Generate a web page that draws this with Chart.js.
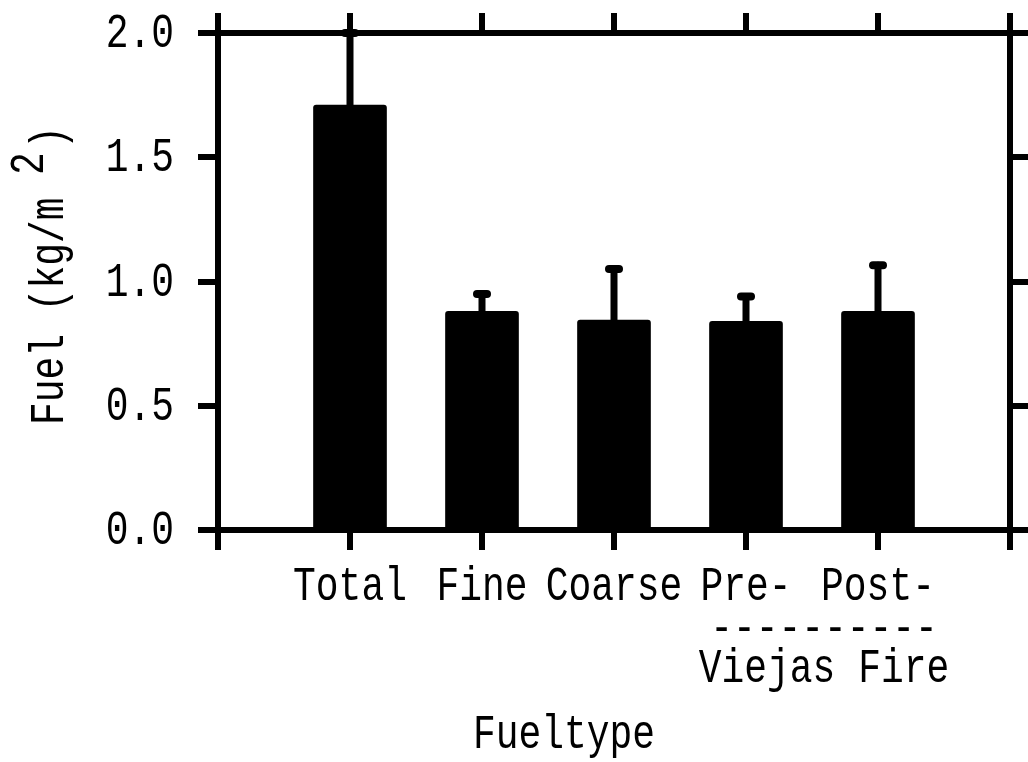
<!DOCTYPE html>
<html>
<head>
<meta charset="utf-8">
<script src="https://cdn.jsdelivr.net/npm/chart.js@4/dist/chart.umd.min.js"></script>
<style>
  body { margin: 0; background: #fff; }
  canvas { display: block; }
</style>
</head>
<body>
<canvas id="fuel_chart" width="1028" height="762"></canvas>
<script>
// fuel load by fuel type, mean with upper error
var categories = ['Total', 'Fine', 'Coarse', 'Pre-', 'Post-'];
var fuel_means = [1.71, 0.88, 0.845, 0.84, 0.88];
var fuel_upper = [2.0, 0.95, 1.05, 0.94, 1.065];
var y_tick_values = [0.0, 0.5, 1.0, 1.5, 2.0];
var group_label = ['----------', 'Viejas Fire'];
var x_title = 'Fueltype';
var y_title = ['Fuel (kg/m', '2', ')'];

var FONT = '48px "Liberation Mono"';
var SQUEEZE = 0.79;

function squeezed_text(ctx, text, x, y, align)
{
  ctx.save();
  ctx.translate(x, y);
  ctx.scale(SQUEEZE, 1);
  ctx.font = FONT;
  ctx.fillStyle = '#000';
  ctx.textAlign = align;
  ctx.textBaseline = 'alphabetic';
  ctx.fillText(text, 0, 0);
  ctx.restore();
}

var error_bars = {
  id: 'error_bars',
  afterDatasetsDraw: function (chart) {
    var ctx = chart.ctx;
    var meta = chart.getDatasetMeta(0);
    var y = chart.scales.y;
    ctx.save();
    ctx.strokeStyle = '#000';
    ctx.lineCap = 'round';
    for (var i = 0; i < categories.length; i++) {
      var bar = meta.data[i + 1];
      var top = y.getPixelForValue(fuel_upper[i]);
      ctx.lineWidth = 7;
      ctx.beginPath();
      ctx.moveTo(bar.x, bar.y);
      ctx.lineTo(bar.x, top);
      ctx.stroke();
      ctx.lineWidth = 8;
      ctx.beginPath();
      ctx.moveTo(bar.x - 5, top);
      ctx.lineTo(bar.x + 5, top);
      ctx.stroke();
    }
    ctx.restore();
  }
};

var text_labels = {
  id: 'text_labels',
  afterDraw: function (chart) {
    var ctx = chart.ctx;
    var xs = chart.scales.x;
    var ys = chart.scales.y;
    // category labels
    for (var i = 0; i < categories.length; i++) {
      squeezed_text(ctx, categories[i], xs.getPixelForValue(i + 1), 600, 'center');
    }
    // Pre-/Post- Viejas Fire
    var mid = (xs.getPixelForValue(4) + xs.getPixelForValue(5)) / 2 + 12;
    squeezed_text(ctx, group_label[0], mid, 642, 'center');
    squeezed_text(ctx, group_label[1], mid, 682, 'center');
    // y tick labels
    for (var t = 0; t < y_tick_values.length; t++) {
      squeezed_text(ctx, y_tick_values[t].toFixed(1), 174, ys.getPixelForValue(y_tick_values[t]) + 14, 'right');
    }
    // axis titles
    squeezed_text(ctx, x_title, 564, 748, 'center');
    ctx.save();
    ctx.translate(63, 425);
    ctx.rotate(-Math.PI / 2);
    squeezed_text(ctx, y_title[0], 0, 0, 'left');
    squeezed_text(ctx, y_title[1], 250, -20, 'left');
    squeezed_text(ctx, y_title[2], 276, 0, 'left');
    ctx.restore();
  }
};

function axis_style(id_pos)
{
  return {
    position: id_pos,
    grid: { display: true, offset: false, drawOnChartArea: false, drawTicks: true, tickLength: 20, lineWidth: 6, color: '#000' },
    border: { display: true, width: 6, color: '#000' },
    ticks: { display: false }
  };
}

window.onload = function ()
{
  var labels = [''].concat(categories, ['']);
  var values = [null].concat(fuel_means, [null]);

  var x_axis = axis_style('bottom');
  x_axis.type = 'category';
  x_axis.offset = false;
  var x2_axis = axis_style('top');
  x2_axis.type = 'category';
  x2_axis.offset = false;
  var y_axis = axis_style('left');
  y_axis.type = 'linear';
  y_axis.min = 0; y_axis.max = 2;
  y_axis.ticks.stepSize = 0.5;
  var y2_axis = axis_style('right');
  y2_axis.type = 'linear';
  y2_axis.min = 0; y2_axis.max = 2;
  y2_axis.ticks.stepSize = 0.5;

  var ctx = document.getElementById('fuel_chart').getContext('2d');
  var fuel_chart = new Chart(ctx, {
    type: 'bar',
    data: {
      labels: labels,
      datasets: [{
        data: values,
        backgroundColor: '#000',
        borderWidth: 0,
        borderRadius: 3,
        barThickness: 73
      }]
    },
    options: {
      responsive: false,
      animation: false,
      devicePixelRatio: 1,
      layout: { padding: { left: 198, right: -2, top: 13, bottom: 212 } },
      plugins: { legend: { display: false }, tooltip: { enabled: false } },
      scales: { x: x_axis, x2: x2_axis, y: y_axis, y2: y2_axis }
    },
    plugins: [error_bars, text_labels]
  });
}
</script>
</body>
</html>
